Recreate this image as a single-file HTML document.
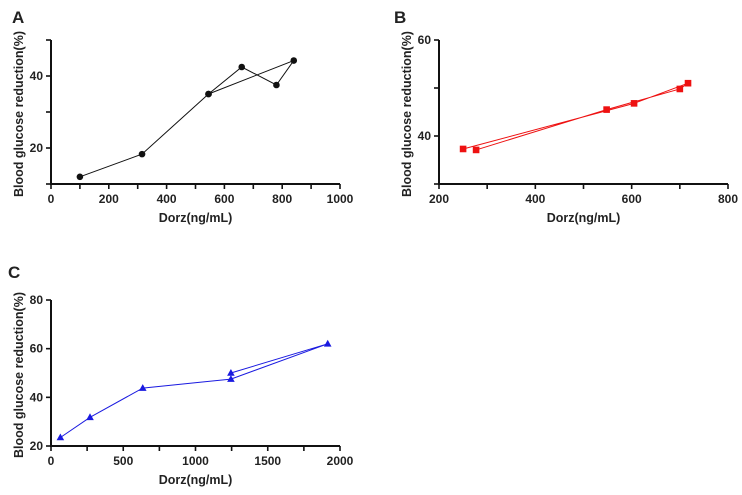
<!DOCTYPE html>
<html><head><meta charset="utf-8"><style>
body{margin:0;background:#fff;}
svg text{font-family:"Liberation Sans",Arial,sans-serif;font-weight:bold;fill:#222;}
</style></head><body>
<svg id="svg" width="742" height="490" xmlns="http://www.w3.org/2000/svg"></svg>
<script>
// Panel A data
const aX = [100, 315, 545, 660, 780, 840, 545];
const aY = [12, 18.3, 35, 42.5, 37.5, 44.3, 35];
const aXTicks = [0, 200, 400, 600, 800, 1000];
const aYTicks = [20, 40];
// Panel B data
const bX = [250, 605, 717, 700, 548, 277];
const bY = [37.3, 46.8, 51, 49.8, 45.5, 37.1];
const bXTicks = [200, 400, 600, 800];
const bYTicks = [40, 60];
// Panel C data
const cX = [65, 270, 635, 1245, 1915, 1245];
const cY = [23.5, 31.8, 43.8, 47.5, 62, 50];
const cXTicks = [0, 500, 1000, 1500, 2000];
const cYTicks = [20, 40, 60, 80];

const NS = "http://www.w3.org/2000/svg";
const svg = document.getElementById('svg');
function mk(tag, attrs, parent) {
  const e = document.createElementNS(NS, tag);
  for (const k in attrs) e.setAttribute(k, attrs[k]);
  (parent || svg).appendChild(e);
  return e;
}
function panel(cfg) {
  const g = mk('g', {});
  
  
  const sx = v => cfg.x0 + (v - cfg.xmin) / (cfg.xmax - cfg.xmin) * (cfg.x1 - cfg.x0);
  const sy = v => cfg.y1 - (v - cfg.ymin) / (cfg.ymax - cfg.ymin) * (cfg.y1 - cfg.y0);
  const lab = mk('text', {x: cfg.lx, y: cfg.ly, 'font-size': 17}, g);
  lab.textContent = cfg.letter;
  
  
  const ax = mk('path', {d: `M${cfg.x0},${cfg.y0}V${cfg.y1}H${cfg.x1}`, stroke: '#111', 'stroke-width': 2, fill: 'none'}, g);
  
  
  for (let v = cfg.xmin; v <= cfg.xmax + 1e-9; v += cfg.xstep) {
    const t = mk('line', {x1: sx(v), x2: sx(v), y1: cfg.y1, y2: cfg.y1 + 5, stroke: '#111', 'stroke-width': 1.6}, g);
    
    
  }
  cfg.xticks.forEach(v => {
    const t = mk('text', {x: sx(v), y: cfg.y1 + 19, 'font-size': 12, 'text-anchor': 'middle'}, g);
    t.textContent = v;
    
    
  });
  for (let v = cfg.ymin; v <= cfg.ymax + 1e-9; v += cfg.ystep) {
    const t = mk('line', {x1: cfg.x0 - 5, x2: cfg.x0, y1: sy(v), y2: sy(v), stroke: '#111', 'stroke-width': 1.6}, g);
    
    
  }
  cfg.yticks.forEach(v => {
    const t = mk('text', {x: cfg.x0 - 8, y: sy(v) + 4, 'font-size': 12, 'text-anchor': 'end'}, g);
    t.textContent = v;
    
    
  });
  const xt = mk('text', {x: (cfg.x0 + cfg.x1) / 2, y: cfg.y1 + 38, 'font-size': 12.5, 'text-anchor': 'middle'}, g);
  xt.textContent = 'Dorz(ng/mL)';
  
  
  const ycx = cfg.x0 - 28, ycy = (cfg.y0 + cfg.y1) / 2 + 2;
  const yt = mk('text', {x: ycx, y: ycy, 'font-size': 12.5, 'text-anchor': 'middle', transform: `rotate(-90 ${ycx} ${ycy})`}, g);
  yt.textContent = 'Blood glucose reduction(%)';
  
  
  const pts = cfg.xs.map((v, i) => sx(v) + ',' + sy(cfg.ys[i])).join(' ');
  const pl = mk('polyline', {points: pts, fill: 'none', stroke: cfg.color, 'stroke-width': 1}, g);
  
  
  cfg.xs.forEach((v, i) => {
    const px = sx(v), py = sy(cfg.ys[i]);
    let m;
    if (cfg.marker === 'circle') m = mk('circle', {cx: px, cy: py, r: 3.3, fill: cfg.color}, g);
    else if (cfg.marker === 'square') m = mk('rect', {x: px - 3.3, y: py - 3.3, width: 6.6, height: 6.6, fill: cfg.color}, g);
    else m = mk('polygon', {points: `${px},${py - 4} ${px - 3.8},${py + 2.8} ${px + 3.8},${py + 2.8}`, fill: cfg.color}, g);
    
    
  });
}
panel({letter: 'A', lx: 12, ly: 23, x0: 51, x1: 340, y0: 40, y1: 184, xmin: 0, xmax: 1000, xstep: 100, ymin: 10, ymax: 50, ystep: 10,
  xticks: aXTicks, yticks: aYTicks, xs: aX, ys: aY, color: '#111', marker: 'circle'});
panel({letter: 'B', lx: 394, ly: 23, x0: 439, x1: 728, y0: 40, y1: 184, xmin: 200, xmax: 800, xstep: 100, ymin: 30, ymax: 60, ystep: 10,
  xticks: bXTicks, yticks: bYTicks, xs: bX, ys: bY, color: '#ee1111', marker: 'square'});
panel({letter: 'C', lx: 8, ly: 278, x0: 51, x1: 340, y0: 300, y1: 446, xmin: 0, xmax: 2000, xstep: 250, ymin: 20, ymax: 80, ystep: 20,
  xticks: cXTicks, yticks: cYTicks, xs: cX, ys: cY, color: '#1a1ae0', marker: 'triangle'});
</script>
</body></html>
